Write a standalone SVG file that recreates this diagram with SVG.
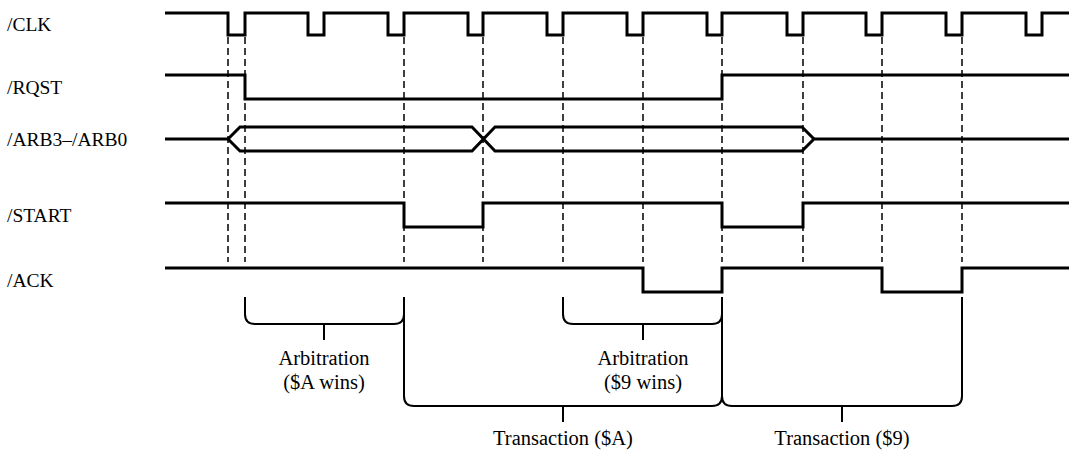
<svg xmlns="http://www.w3.org/2000/svg" width="1069" height="455" viewBox="0 0 1069 455">
  <style>
    .sig { fill: none; stroke: #000; stroke-width: 3; stroke-linejoin: miter; }
    .guide { fill: none; stroke: #000; stroke-width: 1.5; stroke-dasharray: 7 4; }
    .brace { fill: none; stroke: #000; stroke-width: 2; }
    .lbl { font-family: "Liberation Serif", "Times New Roman", serif; font-size: 19.5px; fill: #000; }
    .note { font-family: "Liberation Serif", "Times New Roman", serif; font-size: 20.5px; fill: #000; text-anchor: middle; }
  </style>
  <rect width="1069" height="455" fill="#fff"/>

  <!-- signal names -->
  <g id="labels">
    <text class="lbl" x="7" y="31">/CLK</text>
    <text class="lbl" x="7" y="94">/RQST</text>
    <text class="lbl" x="7" y="146">/ARB3–/ARB0</text>
    <text class="lbl" x="7" y="222">/START</text>
    <text class="lbl" x="7" y="287">/ACK</text>
  </g>

  <!-- clock-edge reference lines -->
  <g id="connectors">
    <line class="guide" x1="228" y1="37" x2="228" y2="262"/>
    <line class="guide" x1="245" y1="37" x2="245" y2="262"/>
    <line class="guide" x1="404" y1="37" x2="404" y2="262"/>
    <line class="guide" x1="483" y1="37" x2="483" y2="262"/>
    <line class="guide" x1="563" y1="37" x2="563" y2="262"/>
    <line class="guide" x1="643" y1="37" x2="643" y2="262"/>
    <line class="guide" x1="722" y1="37" x2="722" y2="262"/>
    <line class="guide" x1="803" y1="37" x2="803" y2="262"/>
    <line class="guide" x1="882" y1="37" x2="882" y2="262"/>
    <line class="guide" x1="962" y1="37" x2="962" y2="262"/>
  </g>

  <!-- waveforms -->
  <g id="clk">
    <path class="sig" d="M165,13 H228 V35 H245 V13 H308 V35 H324 V13 H388 V35 H404 V13 H468 V35 H483 V13 H547 V35 H563 V13 H627 V35 H643 V13 H707 V35 H722 V13 H787 V35 H803 V13 H866 V35 H882 V13 H946 V35 H962 V13 H1026 V35 H1042 V13 H1069"/>
  </g>
  <g id="rqst">
    <path class="sig" d="M165,75 H245 V99 H722 V75 H1069"/>
  </g>
  <g id="arb">
    <path class="sig" d="M165,139 H228 L240,127 H472 L495,151 H802 L814,139 H1069"/>
    <path class="sig" d="M228,139 L240,151 H472 L495,127 H802 L814,139"/>
  </g>
  <g id="start">
    <path class="sig" d="M165,203 H404 V227 H483 V203 H722 V227 H803 V203 H1069"/>
  </g>
  <g id="ack">
    <path class="sig" d="M165,268 H643 V292 H722 V268 H882 V292 H962 V268 H1069"/>
  </g>

  <!-- phase brackets -->
  <g id="arbitration-a">
    <path class="brace" d="M245,297 V314 Q245,324 255,324 H394 Q404,324 404,314"/>
    <line class="brace" x1="324" y1="324" x2="324" y2="340"/>
    <text class="note" x="324" y="365">Arbitration</text>
    <text class="note" x="324" y="389">($A wins)</text>
  </g>
  <g id="transaction-a">
    <path class="brace" d="M404,297 V396 Q404,406 414,406 H712 Q722,406 722,396"/>
    <line class="brace" x1="563" y1="406" x2="563" y2="422"/>
    <text class="note" x="563" y="445">Transaction ($A)</text>
  </g>
  <g id="arbitration-9">
    <path class="brace" d="M563,297 V314 Q563,324 573,324 H712 Q722,324 722,314"/>
    <line class="brace" x1="643" y1="324" x2="643" y2="340"/>
    <text class="note" x="643" y="365">Arbitration</text>
    <text class="note" x="643" y="389">($9 wins)</text>
  </g>
  <g id="transaction-9">
    <path class="brace" d="M722,297 V396 Q722,406 732,406 H952 Q962,406 962,396 V297"/>
    <line class="brace" x1="842" y1="406" x2="842" y2="422"/>
    <text class="note" x="842" y="445">Transaction ($9)</text>
  </g>
</svg>
